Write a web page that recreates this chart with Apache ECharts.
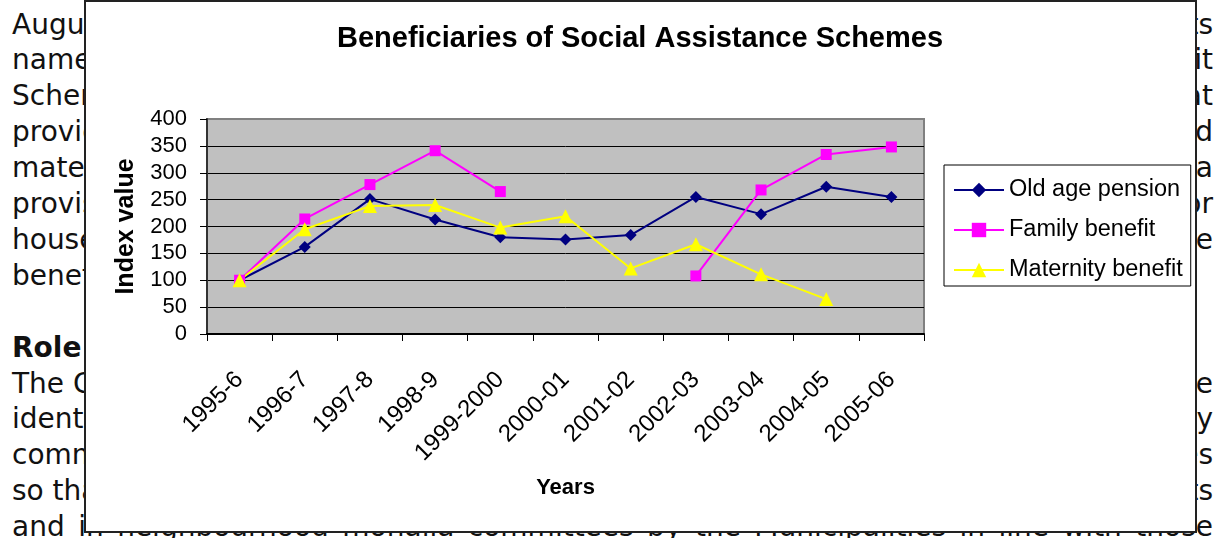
<!DOCTYPE html>
<html>
<head>
<meta charset="utf-8">
<script src="https://cdn.jsdelivr.net/npm/echarts@6/dist/echarts.min.js"></script>
<style>
  html, body { margin: 0; padding: 0; background: #fff; }
  body { width: 1216px; height: 538px; position: relative; overflow: hidden; }
  .txt {
    position: absolute; height: 36px; line-height: 36px;
    font-family: "DejaVu Sans", sans-serif; font-size: 28px; color: #111;
    white-space: nowrap;
  }
  .txt.l { left: 12px; }
  .txt.r { right: 3px; text-align: right; }
  .txt.b { font-weight: bold; }
  .txt.full { left: 12px; width: 1201px; text-align: justify; text-align-last: justify; }
  #frame {
    position: absolute; left: 84px; top: 0; width: 1113px; height: 533px;
    box-sizing: border-box; border: 2px solid #222; background: #fff;
  }
  #chart { position: absolute; left: 0; top: 0; width: 1216px; height: 538px; }
</style>
</head>
<body>
<div id="text"></div>
<div id="frame"></div>
<div id="chart"></div>
<script>
// Surrounding report text: [start of line, end of line, style]
const paragraphLines = [
  ["August 2005 the Government", "social assistance benefits"],
  ["named the Social", "the Welfare Benefit"],
  ["Scheme for the poor", "a programme that"],
  ["provides old age", "benefit and"],
  ["maternity benefit", "and a"],
  ["provision of", "the poor for"],
  ["households below", "need the"],
  ["benefits of the scheme.", ""],
  ["", ""],
  ["Role of the Municipalities", "", "b"],
  ["The City Municipality", "will be"],
  ["identifying", "the city"],
  ["community", "committees"],
  ["so that", "the benefits"],
  ["and in neighbourhood mohalla committees by the Municipalities in line with those", "", "full"]
];

// Chart data
const chartTitle = "Beneficiaries of Social Assistance Schemes";
const categories = ["1995-6", "1996-7", "1997-8", "1998-9", "1999-2000", "2000-01",
                    "2001-02", "2002-03", "2003-04", "2004-05", "2005-06"];
const oldAgePension    = [100, 162, 251, 213, 180, 176, 184, 255, 223, 274, 255];
const familyBenefit    = [100, 214, 278, 341, 265, null, null, 108, 268, 334, 348];
const maternityBenefit = [100, 195, 238, 240, 198, 219, 122, 167, 111, 65, null];
const yMin = 0, yMax = 400, yStep = 50;

const textBox = document.getElementById('text');
paragraphLines.forEach(([left, right, style], k) => {
  const top = (6.5 + 35.9 * k) + 'px';
  if (style === 'full') {
    const d = document.createElement('div');
    d.className = 'txt full';
    d.style.top = top;
    d.textContent = left;
    textBox.appendChild(d);
    // squeeze letters slightly when the line is longer than the column
    const probe = document.createElement('span');
    probe.className = 'txt';
    probe.style.visibility = 'hidden';
    probe.textContent = left;
    textBox.appendChild(probe);
    const w = probe.getBoundingClientRect().width;
    textBox.removeChild(probe);
    if (w > 1195) d.style.letterSpacing = ((1195 - w) / left.length) + 'px';
    return;
  }
  if (left) {
    const d = document.createElement('div');
    d.className = 'txt l' + (style === 'b' ? ' b' : '');
    d.style.top = top;
    d.textContent = left;
    textBox.appendChild(d);
  }
  if (right) {
    const d = document.createElement('div');
    d.className = 'txt r';
    d.style.top = top;
    d.textContent = right;
    textBox.appendChild(d);
  }
});

const FONT = '"Liberation Sans", Arial, sans-serif';
const chart = echarts.init(document.getElementById('chart'), null, { renderer: 'canvas' });

function lineSeries(name, data, color, symbol, size, width) {
  return {
    name, type: 'line', data,
    symbol, symbolSize: size,
    connectNulls: false,
    lineStyle: { color, width },
    itemStyle: { color, borderWidth: 0 },
    emphasis: { disabled: true },
    animation: false
  };
}

const splitColors = [];
for (let v = yMin; v <= yMax; v += yStep) splitColors.push(v === yMax ? '#808080' : '#000');

chart.setOption({
  backgroundColor: 'transparent',
  animation: false,
  title: {
    text: chartTitle,
    left: 640, textAlign: 'center', top: 24, padding: 0,
    textStyle: { fontFamily: FONT, fontSize: 29, fontWeight: 'bold', color: '#000' }
  },
  legend: {
    orient: 'vertical',
    left: 944, top: 165,
    padding: [13, 8, 4, 9],
    itemWidth: 50, itemHeight: 18,
    itemGap: 16,
    backgroundColor: '#fff',
    borderColor: '#000', borderWidth: 1,
    textStyle: { fontFamily: FONT, fontSize: 23.5, color: '#000' },
    data: ['Old age pension', 'Family benefit', 'Maternity benefit']
  },
  grid: {
    left: 207, top: 119, right: 292, bottom: 204,
    show: true, backgroundColor: '#C0C0C0', borderColor: '#808080', borderWidth: 2
  },
  xAxis: {
    type: 'category', data: categories, boundaryGap: true,
    name: 'Years', nameLocation: 'middle', nameGap: 143,
    nameTextStyle: { fontFamily: FONT, fontSize: 22, fontWeight: 'bold', color: '#000' },
    axisLine: { lineStyle: { color: '#000', width: 2 } },
    axisTick: { show: true, length: 7, interval: 0, lineStyle: { color: '#000', width: 1 } },
    axisLabel: { interval: 0, rotate: 45, margin: 42, fontFamily: FONT, fontSize: 24, color: '#000' },
    splitLine: { show: false }
  },
  yAxis: {
    type: 'value', min: yMin, max: yMax, interval: yStep,
    name: 'Index value', nameLocation: 'middle', nameGap: 68,
    nameTextStyle: { fontFamily: FONT, fontSize: 25, fontWeight: 'bold', color: '#000' },
    axisLine: { show: true, lineStyle: { color: '#333', width: 2 } },
    axisTick: { show: true, length: 7, lineStyle: { color: '#000', width: 1 } },
    axisLabel: { margin: 20, fontFamily: FONT, fontSize: 22, color: '#000' },
    splitLine: { show: true, lineStyle: { color: splitColors, width: 1 } }
  },
  series: [
    lineSeries('Old age pension', oldAgePension, '#000080', 'diamond', 12, 2),
    lineSeries('Family benefit', familyBenefit, '#FF00FF', 'rect', 11, 2),
    lineSeries('Maternity benefit', maternityBenefit, '#FFFF00', 'triangle', 14, 2)
  ]
});
</script>
</body>
</html>
